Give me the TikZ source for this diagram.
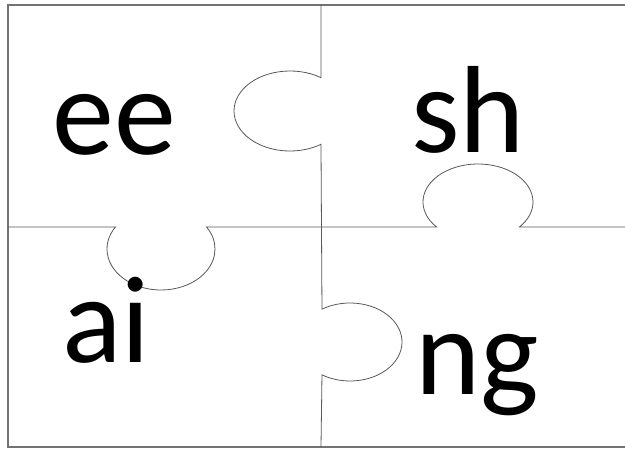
\documentclass[tikz,border=0pt]{standalone}
\usepackage{fontspec}
\setmainfont{Carlito}
\begin{document}
\begin{tikzpicture}[x=1pt, y=1pt,
    cutline/.style={draw=black!65, line width=0.8pt},
    letters/.style={anchor=base, inner sep=0pt, font=\fontsize{124}{124}\selectfont}]
    \useasboundingbox (0,0) rectangle (625,449);
    \fill[white] (0,0) rectangle (625,449);

    % outer edge of the puzzle
    \draw[draw=black!55, line width=1.2pt] (8,2) rectangle (630,444);

    % vertical cut with a knob to the left and one to the right
    \draw[cutline] (321,444) -- ([shift={(290,338)}]56.4:56 and 40)
        arc[start angle=56.4, end angle=303.6, x radius=56, y radius=40]
        -- ([shift={(350,107)}]122.6:52 and 39)
        arc[start angle=122.6, end angle=-122.6, x radius=52, y radius=39]
        -- (321,2);

    % horizontal cut with a knob down and one up
    \draw[cutline] (8,222) -- ([shift={(161,200)}]147.5:54 and 41)
        arc[start angle=147.5, end angle=392.5, x radius=54, y radius=41]
        -- ([shift={(478,247)}]221.1:55 and 38)
        arc[start angle=221.1, end angle=-41.1, x radius=55, y radius=38]
        -- (630,222);

    \node[letters] (ee) at (114,294) {ee};
    \node[letters] (sh) at (468,296) {sh};
    \node[letters] (ai) at (106,86) {ai};
    \node[letters] (ng) at (477,54) {ng};
\end{tikzpicture}
\end{document}
